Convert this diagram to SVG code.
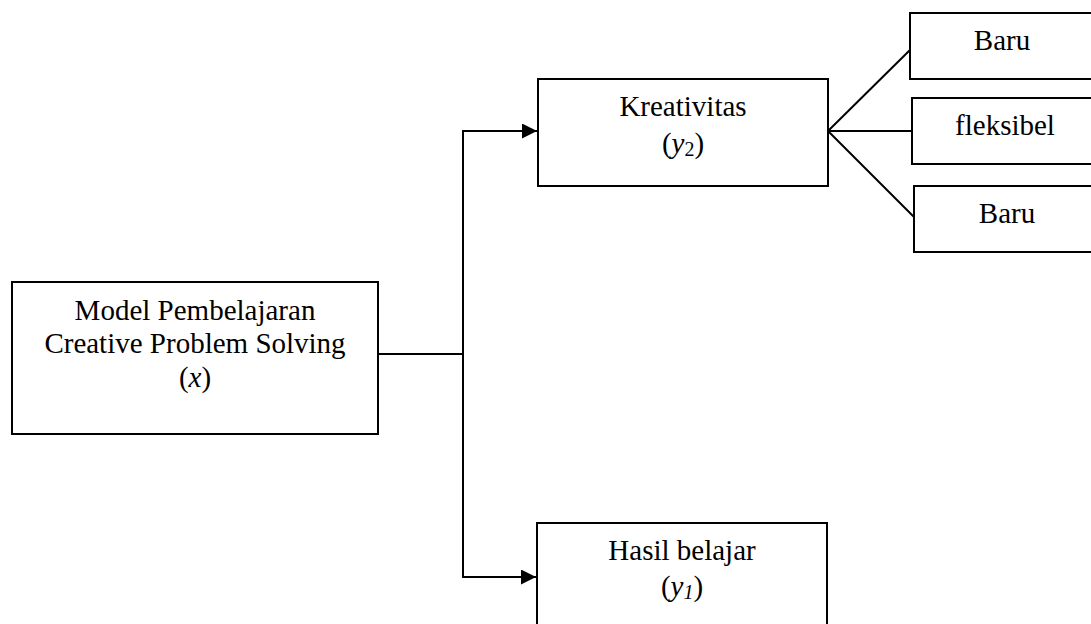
<svg xmlns="http://www.w3.org/2000/svg" width="1091" height="624" viewBox="0 0 1091 624">
<style>
.box{fill:#fff;stroke:#000;stroke-width:2}
.t{font-family:"Liberation Serif","Times New Roman",serif;font-size:29px;fill:#000;text-anchor:middle}
.ln{fill:none;stroke:#000;stroke-width:2}
</style>
<defs>
<marker id="ah" viewBox="0 0 10 10" refX="10" refY="5" markerWidth="18" markerHeight="15" markerUnits="userSpaceOnUse" orient="auto">
<path d="M0,0 L10,5 L0,10 Z" fill="#000"/>
</marker>
</defs>
<rect width="1091" height="624" fill="#fff"/>
<g id="connectors">
<path class="ln" d="M378,354 H463"/>
<path class="ln" d="M463,130 V578"/>
<path class="ln" d="M463,131 H537" marker-end="url(#ah)"/>
<path class="ln" d="M463,577 H536" marker-end="url(#ah)"/>
<path class="ln" d="M828,131 L910,50"/>
<path class="ln" d="M828,131 H912"/>
<path class="ln" d="M828,131 L914,217"/>
</g>
<g id="model">
<rect class="box" x="12" y="282" width="366" height="152"/>
<text class="t" x="195" y="320">Model Pembelajaran</text>
<text class="t" x="195" y="353">Creative Problem Solving</text>
<text class="t" x="195" y="387">(<tspan font-style="italic">x</tspan>)</text>
</g>
<g id="kreativitas">
<rect class="box" x="538" y="79" width="290" height="107"/>
<text class="t" x="683" y="116">Kreativitas</text>
<text class="t" x="683" y="153">(<tspan font-style="italic">y</tspan><tspan font-size="20" dy="3">2</tspan><tspan dy="-3">)</tspan></text>
</g>
<g id="hasil">
<rect class="box" x="537" y="523" width="290" height="120"/>
<text class="t" x="682" y="560">Hasil belajar</text>
<text class="t" x="682" y="596">(<tspan font-style="italic">y</tspan><tspan font-size="20" font-style="italic" dy="3">1</tspan><tspan dy="-3">)</tspan></text>
</g>
<g id="baru1">
<rect class="box" x="910" y="13" width="200" height="66"/>
<text class="t" x="1002" y="50">Baru</text>
</g>
<g id="fleksibel">
<rect class="box" x="912" y="98" width="200" height="66"/>
<text class="t" x="1005" y="135">fleksibel</text>
</g>
<g id="baru2">
<rect class="box" x="914" y="186" width="200" height="66"/>
<text class="t" x="1007" y="223">Baru</text>
</g>
</svg>
